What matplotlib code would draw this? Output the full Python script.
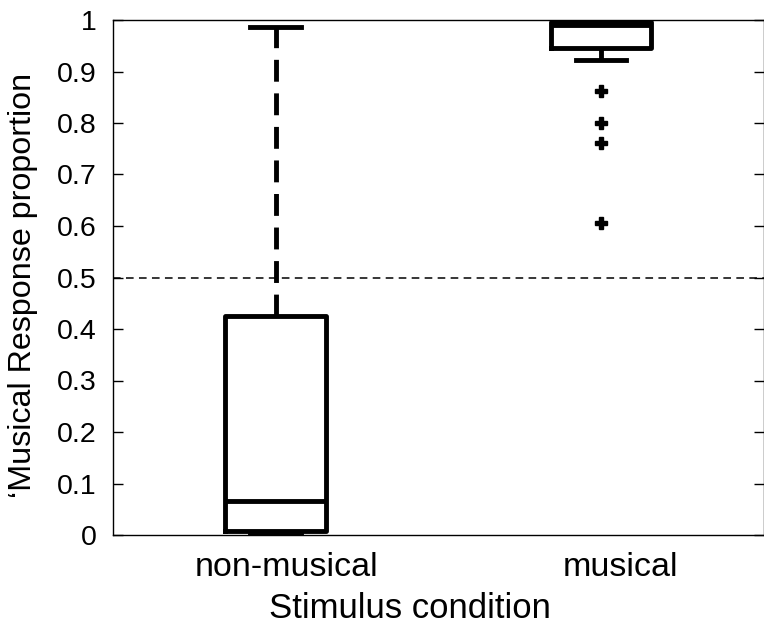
import matplotlib.pyplot as plt
import matplotlib.transforms as mtransforms
import numpy as np

plt.rcParams['font.family'] = ['Liberation Sans', 'DejaVu Sans']

# box statistics per stimulus condition
conditions = ['non-musical', 'musical']
medians = [0.066, 0.99]
q1 = [0.008, 0.946]
q3 = [0.425, 0.996]
whisker_low = [0.0, 0.922]
whisker_high = [0.986, 1.0]
outliers = [[], [0.862, 0.80, 0.761, 0.605]]

stats = []
for i in range(len(conditions)):
    stats.append({'med': medians[i], 'q1': q1[i], 'q3': q3[i],
                  'whislo': whisker_low[i], 'whishi': whisker_high[i],
                  'fliers': outliers[i], 'label': conditions[i]})

fig = plt.figure(figsize=(7.64, 6.25), dpi=100)
ax = fig.add_axes([0.148, 0.144, 0.8515, 0.824])

lw = 3.5
ax.bxp(stats, positions=[1, 2], widths=0.31, showfliers=True,
       boxprops=dict(color='black', linewidth=lw),
       medianprops=dict(color='black', linewidth=lw),
       whiskerprops=dict(color='black', linewidth=lw, linestyle=(0, (4.5, 2.4)),
                         dash_capstyle='butt'),
       capprops=dict(color='black', linewidth=lw),
       capwidths=0.155,
       flierprops=dict(marker='P', markersize=9, markerfacecolor='black',
                       markeredgecolor='black', linestyle='none'))

# chance level
ax.axhline(0.5, color='black', linewidth=1.1, linestyle=(0, (5, 3.5)), zorder=0)

ax.set_xlim(0.5, 2.5)
ax.set_ylim(0, 1)
ax.set_yticks(np.arange(0, 1.01, 0.1))
ax.set_yticklabels(['0', '0.1', '0.2', '0.3', '0.4', '0.5', '0.6', '0.7', '0.8', '0.9', '1'])
ax.tick_params(axis='y', direction='in', right=True, length=7, width=1,
               labelsize=20.5, pad=12)
ax.tick_params(axis='x', length=0, labelsize=24.5, pad=12)
for s in ax.spines.values():
    s.set_linewidth(1)

# nudge the category labels a little to the right
for lab, dx in zip(ax.get_xticklabels(), [8, 14]):
    lab.set_transform(lab.get_transform() +
                      mtransforms.ScaledTranslation(dx / 72, 0, fig.dpi_scale_trans))

ax.set_xlabel('Stimulus condition', fontsize=25)
ax.xaxis.set_label_coords(0.456, -0.110)
ax.set_ylabel('\u2018Musical Response proportion', fontsize=23.2)
ax.yaxis.set_label_coords(-0.115, 0.485)

fig.savefig('out.png', dpi=100)
